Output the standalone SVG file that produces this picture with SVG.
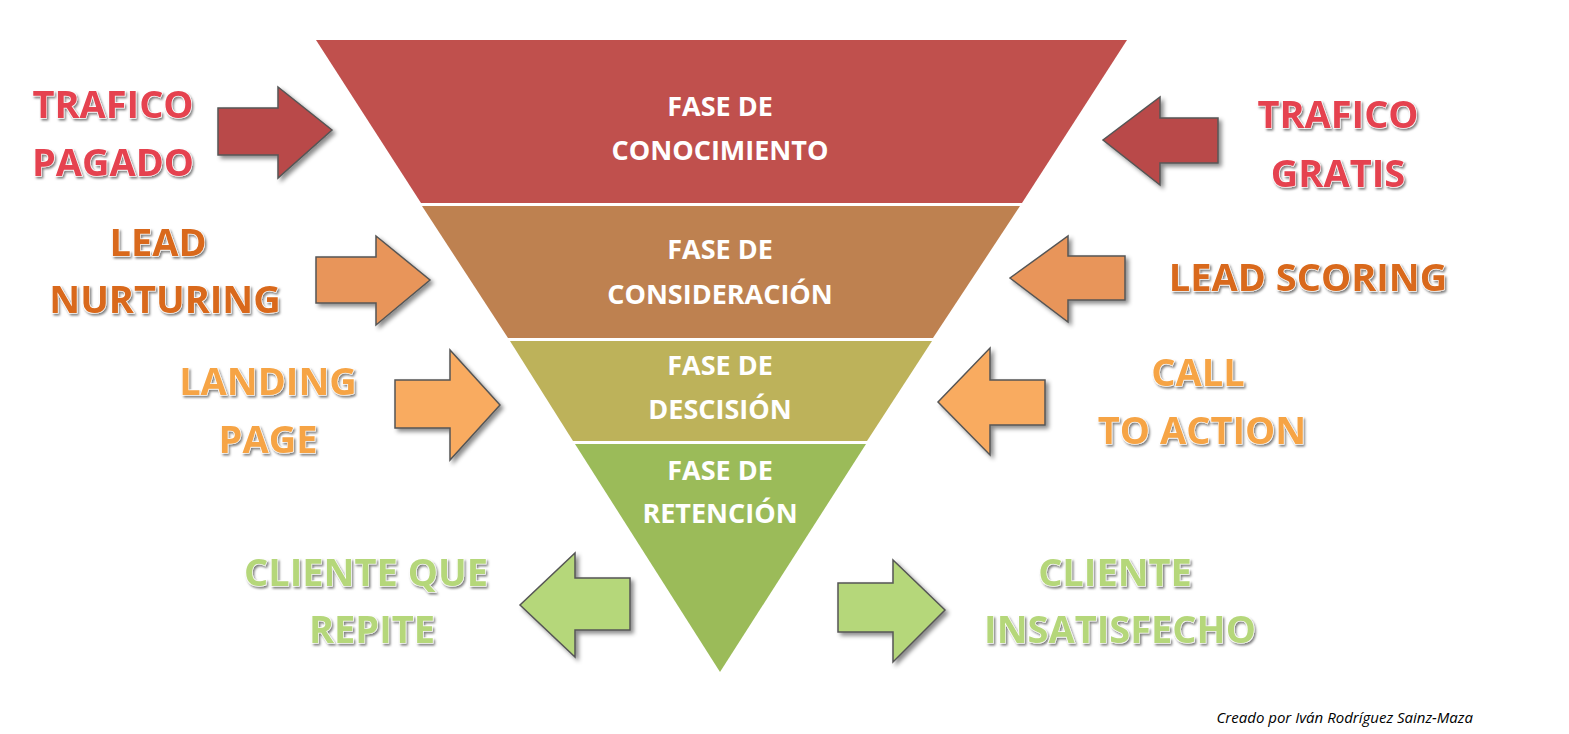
<svg xmlns="http://www.w3.org/2000/svg" width="1569" height="734" viewBox="0 0 1569 734">
<style>
.ft{font-family:"Open Sans","Liberation Sans",sans-serif;font-weight:bold;font-size:27px;fill:#fff;text-anchor:middle}
.lb{font-family:"Open Sans","Liberation Sans",sans-serif;font-weight:bold;font-size:38px;text-anchor:middle;stroke:#fff;stroke-width:1.2;paint-order:stroke}
.ar{stroke:#555;stroke-width:1.5;stroke-linejoin:miter}
</style>
<defs>
<filter id="sh" x="-20%" y="-20%" width="150%" height="150%"><feDropShadow dx="3" dy="3" stdDeviation="2" flood-color="#000" flood-opacity="0.45"/></filter>
<filter id="ts" x="-10%" y="-10%" width="120%" height="130%"><feDropShadow dx="1.5" dy="2" stdDeviation="1.2" flood-color="#000" flood-opacity="0.5"/></filter>
</defs>
<rect width="1569" height="734" fill="#fff"/>
<g id="funnel">
<g id="conocimiento"><polygon points="316,40 1127,40 1022,203 421,203" fill="#c0504d"/><text class="ft" x="720" y="116">FASE DE</text><text class="ft" x="720" y="160">CONOCIMIENTO</text></g>
<g id="consideracion"><polygon points="422,206 1020,206 933,338 508,338" fill="#be8150"/><text class="ft" x="720" y="259">FASE DE</text><text class="ft" x="720" y="304">CONSIDERACIÓN</text></g>
<g id="decision"><polygon points="510,341 932,341 867,441 573,441" fill="#bdb25a"/><text class="ft" x="720" y="375">FASE DE</text><text class="ft" x="720" y="419">DESCISIÓN</text></g>
<g id="retencion"><polygon points="575,444 866,444 720,672" fill="#9bbb59"/><text class="ft" x="720" y="480">FASE DE</text><text class="ft" x="720" y="523">RETENCIÓN</text></g>
</g>
<g id="connectors" class="ar">
<polygon filter="url(#sh)" fill="#b94a48" points="218,108 278,108 278,87 332,130 278,178 278,155 218,155"/>
<polygon filter="url(#sh)" fill="#b94a48" points="1218,118 1160,118 1160,97 1103,140 1160,185 1160,163 1218,163"/>
<polygon filter="url(#sh)" fill="#e8955a" points="316,257 376,257 376,236 430,280 376,325 376,303 316,303"/>
<polygon filter="url(#sh)" fill="#e8955a" points="1125,256 1068,256 1068,236 1010,278 1068,322 1068,300 1125,300"/>
<polygon filter="url(#sh)" fill="#f9ab60" points="395,380 450,380 450,350 500,405 450,460 450,428 395,428"/>
<polygon filter="url(#sh)" fill="#f9ab60" points="1045,380 990,380 990,348 938,402 990,455 990,425 1045,425"/>
<polygon filter="url(#sh)" fill="#b5d77a" points="630,578 575,578 575,553 520,605 575,657 575,630 630,630"/>
<polygon filter="url(#sh)" fill="#b5d77a" points="838,583 893,583 893,560 945,610 893,662 893,632 838,632"/>
</g>
<g id="labels" filter="url(#ts)">
<g id="trafico-pagado"><text class="lb" x="113" y="118" fill="#e5424f">TRAFICO</text><text class="lb" x="113" y="176" fill="#e5424f">PAGADO</text></g>
<g id="trafico-gratis"><text class="lb" x="1338" y="128" fill="#e5424f">TRAFICO</text><text class="lb" x="1338" y="187" fill="#e5424f">GRATIS</text></g>
<g id="lead-nurturing"><text class="lb" x="158" y="256" fill="#d9691a">LEAD</text><text class="lb" x="165" y="313" fill="#d9691a">NURTURING</text></g>
<g id="lead-scoring"><text class="lb" x="1308" y="291" fill="#d9691a">LEAD SCORING</text></g>
<g id="landing-page"><text class="lb" x="268" y="395" fill="#f6a445">LANDING</text><text class="lb" x="268" y="453" fill="#f6a445">PAGE</text></g>
<g id="cta"><text class="lb" x="1198" y="386" fill="#f6a445">CALL</text><text class="lb" x="1202" y="444" fill="#f6a445">TO ACTION</text></g>
<g id="cliente-repite"><text class="lb" x="366" y="586" fill="#b5d77a">CLIENTE QUE</text><text class="lb" x="372" y="643" fill="#b5d77a">REPITE</text></g>
<g id="cliente-insatisfecho"><text class="lb" x="1115" y="586" fill="#b5d77a">CLIENTE</text><text class="lb" x="1120" y="643" fill="#b5d77a">INSATISFECHO</text></g>
</g>
<text x="1473" y="723" font-family="'Open Sans','Liberation Sans',sans-serif" font-style="italic" font-size="15" text-anchor="end" fill="#000">Creado por Iván Rodríguez Sainz-Maza</text>
</svg>
